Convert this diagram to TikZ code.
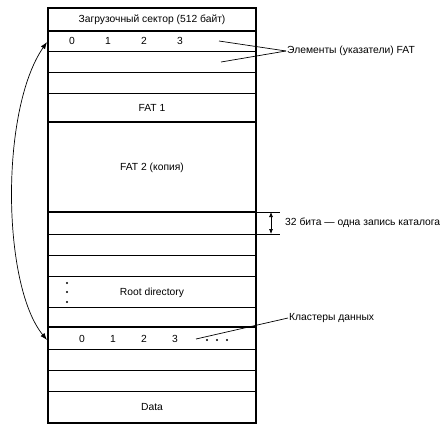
\documentclass[tikz,border=0pt]{standalone}
\usepackage{fontspec}
\setmainfont{Liberation Sans}
\usetikzlibrary{arrows.meta, positioning, calc}

\tikzset{
  rowline/.style={line width=0.7pt},
  partline/.style={line width=1.6pt},
  lbl/.style={font=\fontsize{10.3}{12}\selectfont},
  ptr/.style={line width=0.7pt}
}

\begin{document}
\begin{tikzpicture}[x=1pt, y=-1pt, every node/.style={lbl, inner sep=1pt}]
\useasboundingbox (0,0) rectangle (446,431);
% rows of the disk layout
\foreach \y in {51,72,93,234,255,276,307,349,370,391}
  \draw[rowline] (48,\y) -- (256,\y);
\foreach \y in {31,122,212,327}
  \draw[partline] (48,\y) -- (256,\y);
\draw[line width=1.3pt] (48,8) rectangle (256,423);

% area names
\node (boot) at (152,20) {Загрузочный сектор (512 байт)};
\node (fat1) at (152,108) {FAT 1};
\node (fat2) at (152,168) {FAT 2 (копия)};
\node (root) at (152,293) {Root directory};
\node (data) at (152,407) {Data};

% FAT entries and clusters
\foreach \n/\x in {0/72,1/108,2/144,3/180}
  \node (f\n) at (\x,41) {\n};
\foreach \n/\x in {0/82,1/113,2/144,3/175}
  \node (c\n) at (\x,339) {\n};
\foreach \x in {207,217,227}
  \fill (\x,340) circle (1.2pt);
\foreach \y in {283,292,302}
  \fill (67,\y) circle (1.2pt);

% labels on the right
\node[right] (elem) at (286,51) {Элементы (указатели) FAT};
\coordinate (e1) at (219,41);
\coordinate (e2) at (221,62);
\draw[ptr] (e1) -- (elem.west);
\draw[ptr] (e2) -- (elem.west);

\coordinate (r1) at (256,212);
\coordinate (r2) at (256,234);
\draw[rowline] (r1) -- ++(24,0) coordinate (r1e);
\draw[rowline] (r2) -- ++(24,0) coordinate (r2e);
\draw[rowline, {Latex[length=5pt,width=4pt]}-{Latex[length=5pt,width=4pt]}] ($(r1)!0.625!(r1e)$) -- ($(r2)!0.625!(r2e)$);
\node[right] (rec) at (284,223) {32 бита — одна запись каталога};

\node[right] (clus) at (288,318) {Кластеры данных};
\coordinate (k1) at (196,339);
\draw[ptr] (k1) -- (clus.west);

% FAT entry points to cluster
\coordinate (ft) at (47,42);
\coordinate (cl) at (47,340);
\draw[ptr, {Latex[length=7pt,width=5pt]}-{Latex[length=7pt,width=5pt]}] (ft) .. controls (0,110) and (2,285) .. (cl);
\end{tikzpicture}
\end{document}
